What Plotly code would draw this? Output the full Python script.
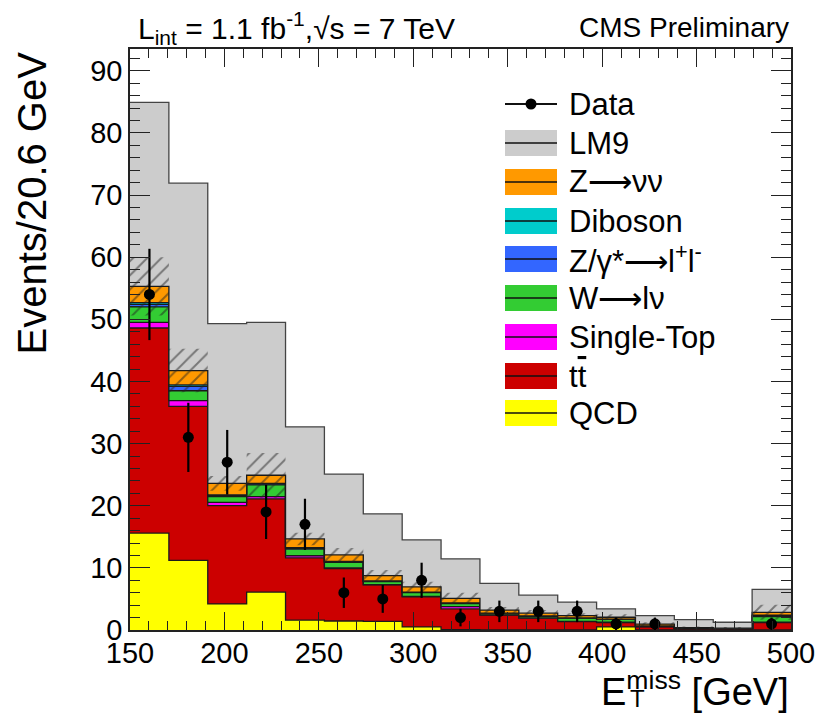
import numpy as np
import plotly.graph_objects as go

# ---------------- data ----------------
x_min, x_max, n_bins = 150.0, 500.0, 17
edges = [x_min + i * (x_max - x_min) / n_bins for i in range(n_bins + 1)]
centers = [(edges[i] + edges[i + 1]) / 2 for i in range(n_bins)]

qcd      = [15.6, 11.2, 4.2, 6.1, 1.6, 1.45, 1.4, 0.5, 0.05, 0.0, 0.0, 0.0, 0.5, 0.0, 0.0, 0.0, 0.0]
ttbar    = [33.0, 24.8, 15.8, 15.0, 10.0, 8.45, 5.85, 4.85, 3.35, 2.4, 1.9, 1.35, 0.7, 0.5, 0.2, 0.2, 1.2]
singletop= [0.9, 0.9, 0.55, 0.35, 0.35, 0.1, 0.05, 0.05, 0.35, 0.05, 0.05, 0.05, 0.05, 0.05, 0.02, 0.02, 0.05]
wlnu     = [2.5, 1.6, 0.9, 1.9, 1.05, 0.9, 0.5, 0.6, 0.5, 0.2, 0.25, 0.5, 0.45, 0.05, 0.03, 0.02, 0.9]
zll      = [0.4, 0.7, 0.2, 0.15, 0.15, 0.1, 0.05, 0.05, 0.05, 0.05, 0.05, 0.05, 0.05, 0.05, 0.02, 0.01, 0.2]
diboson  = [0.3, 0.25, 0.1, 0.1, 0.1, 0.05, 0.05, 0.05, 0.05, 0.0, 0.0, 0.0, 0.0, 0.0, 0.0, 0.0, 0.05]
znunu    = [2.6, 2.3, 1.85, 1.3, 1.4, 1.05, 0.85, 0.85, 0.75, 0.5, 0.45, 0.35, 0.3, 0.3, 0.1, 0.05, 0.45]
lm9      = [29.6, 30.15, 25.7, 24.6, 18.05, 13.0, 9.95, 7.55, 6.35, 4.3, 2.9, 2.2, 1.35, 1.35, 1.3, 0.95, 3.7]
sm_err   = [4.7, 3.5, 1.2, 3.6, 1.0, 1.1, 0.9, 0.8, 0.9, 0.5, 0.5, 0.4, 0.5, 0.3, 0.2, 0.2, 1.2]
data     = [54, 31, 27, 19, 17, 6, 5, 8, 2, 3, 3, 3, 1, 1, 0, 0, 1]

components = [
    ("QCD", qcd, "#ffff00"),
    ("tt", ttbar, "#cc0000"),
    ("Single-Top", singletop, "#ff00ff"),
    ("W", wlnu, "#33cc33"),
    ("Zll", zll, "#3366ff"),
    ("Diboson", diboson, "#00cccc"),
    ("Znunu", znunu, "#ff9900"),
    ("LM9", lm9, "#cccccc"),
]

FONT = "Liberation Sans, Arial, sans-serif"
fig = go.Figure()


def step_y(vals):
    return list(vals) + [vals[-1]]


cum = np.zeros(n_bins)
sm_total = None
for i, (name, vals, col) in enumerate(components):
    cum = cum + np.array(vals)
    fig.add_trace(go.Scatter(
        x=edges, y=step_y(cum.tolist()), mode="lines", line_shape="hv",
        line=dict(color="#444444" if name == "LM9" else "#1a1a1a", width=1.3),
        fill="tozeroy" if i == 0 else "tonexty", fillcolor=col,
        showlegend=False, hoverinfo="skip"))
    if name == "Znunu":
        sm_total = cum.copy()

# hatched uncertainty band on SM total
lo = (sm_total - np.array(sm_err)).tolist()
hi = (sm_total + np.array(sm_err)).tolist()
fig.add_trace(go.Scatter(x=edges, y=step_y(lo), mode="lines", line_shape="hv",
                         line=dict(width=0), showlegend=False, hoverinfo="skip"))
fig.add_trace(go.Scatter(x=edges, y=step_y(hi), mode="lines", line_shape="hv",
                         line=dict(width=0), fill="tonexty", fillcolor="rgba(0,0,0,0)",
                         fillpattern=dict(shape="/", fgcolor="#222222", bgcolor="rgba(0,0,0,0)",
                                          size=10, solidity=0.2, fillmode="overlay"),
                         showlegend=False, hoverinfo="skip"))

# data points
dx = [c for c, d in zip(centers, data) if d > 0]
dy = [d for d in data if d > 0]
fig.add_trace(go.Scatter(x=dx, y=dy, mode="markers",
                         marker=dict(color="black", size=11),
                         error_y=dict(type="data", array=[np.sqrt(v) for v in dy],
                                      color="black", thickness=2.2, width=0),
                         showlegend=False, hoverinfo="skip"))

# ---------------- layout ----------------
L, R, T, B = 130, 29, 49, 85
W, H = 820, 715
pw, ph = W - L - R, H - T - B


def px2paper(px, py):
    return (px - L) / pw, (H - B - py) / ph


axis_common = dict(showline=True, linecolor="#222222", linewidth=1.5, mirror="ticks",
                   ticks="inside", tickcolor="#222222", showgrid=False, zeroline=False,
                   automargin=False,
                   tickfont=dict(family=FONT, size=29, color="black"))
fig.update_xaxes(range=[x_min, x_max], dtick=50, tick0=150, ticklen=18, tickwidth=1.3,
                 ticklabelstandoff=-4,
                 minor=dict(dtick=10, ticklen=9, ticks="inside", tickcolor="#222222", tickwidth=1.3),
                 **axis_common)
fig.update_yaxes(range=[0, 93.5], dtick=10, ticklen=20, tickwidth=1.3,
                 ticklabelstandoff=0,
                 minor=dict(dtick=2, ticklen=10, ticks="inside", tickcolor="#222222", tickwidth=1.3),
                 **axis_common)

shapes = []
annotations = []

# legend
legend_entries = [
    ("Data", None), ("LM9", "#cccccc"), ("Z\u27f6\u03bd\u03bd", "#ff9900"),
    ("Diboson", "#00cccc"), ("Z/\u03b3*\u27f6l<sup>+</sup>l<sup>-</sup>", "#3366ff"),
    ("W\u27f6l\u03bd", "#33cc33"), ("Single-Top", "#ff00ff"),
    ("t<span style='text-decoration:overline'>t</span>", "#cc0000"), ("QCD", "#ffff00"),
]
leg_y = [104, 143, 182, 221, 259, 298, 337, 376, 413]
bx0, bx1 = 505, 557
for (label, col), cy in zip(legend_entries, leg_y):
    x0, y0 = px2paper(bx0, cy + 13)
    x1, y1 = px2paper(bx1, cy - 13)
    xm0, ym = px2paper(bx0, cy)
    xm1, _ = px2paper(bx1, cy)
    if col is not None:
        shapes.append(dict(type="rect", xref="paper", yref="paper", x0=x0, x1=x1, y0=y0, y1=y1,
                           fillcolor=col, line=dict(width=0), layer="above"))
        shapes.append(dict(type="line", xref="paper", yref="paper", x0=xm0, x1=xm1, y0=ym, y1=ym,
                           line=dict(color="#111111", width=1.3), layer="above"))
    else:
        shapes.append(dict(type="line", xref="paper", yref="paper", x0=xm0, x1=xm1, y0=ym, y1=ym,
                           line=dict(color="#111111", width=2), layer="above"))
        cx, _ = px2paper(531, cy)
        rx = 5.5 / pw
        ry = 5.5 / ph
        shapes.append(dict(type="circle", xref="paper", yref="paper", x0=cx - rx, x1=cx + rx,
                           y0=ym - ry, y1=ym + ry, fillcolor="black", line=dict(width=0),
                           layer="above"))
    tx, ty = px2paper(567, cy)
    annotations.append(dict(text=label, xref="paper", yref="paper", x=tx, y=ty,
                            xanchor="left", yanchor="middle", showarrow=False,
                            font=dict(family=FONT, size=31, color="black")))

# header texts
hx, hy = px2paper(136, 28)
annotations.append(dict(text="L<sub>int</sub> = 1.1 fb<sup>-1</sup>,\u221as = 7 TeV",
                        xref="paper", yref="paper", x=hx, y=hy, xanchor="left", yanchor="middle",
                        showarrow=False, font=dict(family=FONT, size=30, color="black")))
cx_, cy_ = px2paper(791, 28)
annotations.append(dict(text="CMS Preliminary", xref="paper", yref="paper", x=cx_, y=cy_,
                        xanchor="right", yanchor="middle", showarrow=False,
                        font=dict(family=FONT, size=28, color="black")))

# y title
yx, yy = px2paper(31, 50)
annotations.append(dict(text="Events/20.6 GeV", xref="paper", yref="paper", x=yx, y=yy,
                        xanchor="center", yanchor="top", textangle=-90, showarrow=False,
                        font=dict(family=FONT, size=40, color="black")))

# x title
xx, xy = px2paper(791, 689)
annotations.append(dict(text="E<sup>miss</sup> [GeV]", xref="paper", yref="paper", x=xx, y=xy,
                        xanchor="right", yanchor="middle", showarrow=False,
                        font=dict(family=FONT, size=38, color="black")))
sx, sy = px2paper(637, 698)
annotations.append(dict(text="T", xref="paper", yref="paper", x=sx, y=sy,
                        xanchor="center", yanchor="middle", showarrow=False,
                        font=dict(family=FONT, size=24, color="black")))

fig.update_layout(width=W, height=H, margin=dict(l=L, r=R, t=T, b=B),
                  paper_bgcolor="white", plot_bgcolor="white",
                  shapes=shapes, annotations=annotations, showlegend=False)

fig.write_html("out.html")
